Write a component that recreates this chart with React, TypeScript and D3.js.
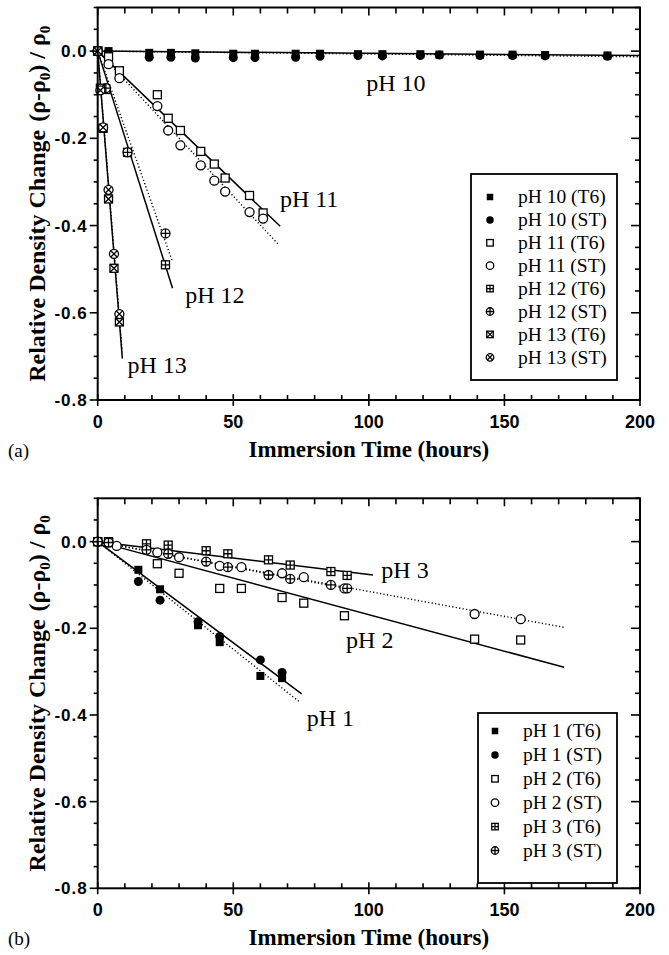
import React from 'react';
import * as d3 from 'd3';

// ---------- shared axis values ----------
const xTickValues = [0, 50, 100, 150, 200];
const yTickValues = [0, -0.2, -0.4, -0.6, -0.8];

// ---------- panel (a): alkaline solutions ----------
const hoursPH10 = [4, 19, 27, 36, 50, 58, 73, 82, 96, 105, 119, 126, 141, 153, 165, 188];
const rhoPH10T6 = [0, -0.004, -0.004, -0.005, -0.006, -0.006, -0.006, -0.006, -0.007, -0.007, -0.007, -0.008, -0.008, -0.008, -0.009, -0.01];
const rhoPH10ST = [-0.002, -0.014, -0.014, -0.016, -0.015, -0.015, -0.014, -0.012, -0.01, -0.011, -0.01, -0.009, -0.01, -0.01, -0.011, -0.012];

const hoursPH11 = [0, 4, 8, 22, 26, 30.5, 38, 43, 47, 56, 61];
const rhoPH11T6 = [0, -0.013, -0.045, -0.1, -0.154, -0.182, -0.23, -0.259, -0.291, -0.331, -0.371];
const rhoPH11ST = [0, -0.03, -0.062, -0.126, -0.182, -0.216, -0.262, -0.297, -0.322, -0.369, -0.384];

const hoursPH12 = [0, 3, 11, 25];
const rhoPH12T6 = [0, -0.088, -0.232, -0.49];
const rhoPH12ST = [0, -0.085, -0.232, -0.418];

const hoursPH13 = [0, 1, 2, 4, 6, 8];
const rhoPH13T6 = [0, -0.085, -0.177, -0.339, -0.498, -0.621];
const rhoPH13ST = [0, -0.09, -0.175, -0.318, -0.465, -0.603];

// linear fits (slope per hour, last hour drawn)
const fitSlopesA = [-0.00005, -0.000065, -0.00597, -0.00665, -0.0197, -0.0175, -0.0775, -0.0765];
const fitEndHoursA = [200, 200, 67.3, 67, 27.6, 27.4, 9.1, 9.0];
const legendLabelsA = ['pH 10 (T6)', 'pH 10 (ST)', 'pH 11 (T6)', 'pH 11 (ST)', 'pH 12 (T6)', 'pH 12 (ST)', 'pH 13 (T6)', 'pH 13 (ST)'];
const curveLabelsA = ['pH 10', 'pH 11', 'pH 12', 'pH 13'];
const curveLabelAnchorsA = [[99, -0.091], [67.2, -0.357], [32.3, -0.577], [11, -0.737]];

// ---------- panel (b): acidic solutions ----------
const hoursPH1 = [0, 15, 23, 37, 45, 60, 68];
const rhoPH1T6 = [0, -0.065, -0.11, -0.193, -0.232, -0.31, -0.315];
const rhoPH1ST = [0, -0.092, -0.135, -0.185, -0.219, -0.273, -0.302];

const hoursPH2T6 = [0, 4, 22, 30, 45, 53, 68, 76, 91, 139, 156];
const rhoPH2T6 = [0, -0.002, -0.051, -0.073, -0.108, -0.108, -0.129, -0.142, -0.171, -0.225, -0.227];
const hoursPH2ST = [0, 7, 22, 30, 45, 53, 68, 76, 91, 139, 156];
const rhoPH2ST = [0, -0.01, -0.025, -0.036, -0.056, -0.059, -0.073, -0.082, -0.108, -0.167, -0.179];

const hoursPH3 = [0, 4, 18, 26, 40, 48, 63, 71, 86, 92];
const rhoPH3T6 = [0, 0, -0.005, -0.008, -0.021, -0.028, -0.042, -0.054, -0.069, -0.078];
const rhoPH3ST = [0, -0.002, -0.019, -0.028, -0.046, -0.059, -0.077, -0.086, -0.1, -0.108];

const fitSlopesB = [-0.00467, -0.00497, -0.001685, -0.00115, -0.00076, -0.00118];
const fitEndHoursB = [75.2, 74.7, 172, 172, 101.5, 92];
const legendLabelsB = ['pH 1 (T6)', 'pH 1 (ST)', 'pH 2 (T6)', 'pH 2 (ST)', 'pH 3 (T6)', 'pH 3 (ST)'];
const curveLabelsB = ['pH 1', 'pH 2', 'pH 3'];
const curveLabelAnchorsB = [[77.1, -0.425], [91.6, -0.246], [104.6, -0.0845]];

const seriesA = [
  { hours: hoursPH10, values: rhoPH10T6, marker: 'fsq' },
  { hours: hoursPH10, values: rhoPH10ST, marker: 'fci' },
  { hours: hoursPH11, values: rhoPH11T6, marker: 'osq' },
  { hours: hoursPH11, values: rhoPH11ST, marker: 'oci' },
  { hours: hoursPH12, values: rhoPH12T6, marker: 'sqplus' },
  { hours: hoursPH12, values: rhoPH12ST, marker: 'ciplus' },
  { hours: hoursPH13, values: rhoPH13T6, marker: 'sqx' },
  { hours: hoursPH13, values: rhoPH13ST, marker: 'cix' },
];

const seriesB = [
  { hours: hoursPH1, values: rhoPH1T6, marker: 'fsq' },
  { hours: hoursPH1, values: rhoPH1ST, marker: 'fci' },
  { hours: hoursPH2T6, values: rhoPH2T6, marker: 'osq' },
  { hours: hoursPH2ST, values: rhoPH2ST, marker: 'oci' },
  { hours: hoursPH3, values: rhoPH3T6, marker: 'sqplus' },
  { hours: hoursPH3, values: rhoPH3ST, marker: 'ciplus' },
];

const SERIF = '"Liberation Serif", "Times New Roman", serif';
const SANS = '"Liberation Sans", Arial, sans-serif';

const Marker = ({ kind, cx, cy, size }) => {
  const h = size / 2;
  const r = size / 2 + 0.5;
  const sw = 1.3;
  const d = r * 0.707;
  switch (kind) {
    case 'fsq':
      return <rect x={cx - h} y={cy - h} width={size} height={size} fill="#000" />;
    case 'fci':
      return <circle cx={cx} cy={cy} r={r} fill="#000" />;
    case 'osq':
      return <rect x={cx - h} y={cy - h} width={size} height={size} fill="#fff" stroke="#000" strokeWidth={sw} />;
    case 'oci':
      return <circle cx={cx} cy={cy} r={r} fill="#fff" stroke="#000" strokeWidth={sw} />;
    case 'sqplus':
      return (
        <g stroke="#000" strokeWidth={sw}>
          <rect x={cx - h} y={cy - h} width={size} height={size} fill="#fff" />
          <path d={`M${cx - h},${cy}H${cx + h}M${cx},${cy - h}V${cy + h}`} />
        </g>
      );
    case 'ciplus':
      return (
        <g stroke="#000" strokeWidth={sw}>
          <circle cx={cx} cy={cy} r={r} fill="#fff" />
          <path d={`M${cx - r},${cy}H${cx + r}M${cx},${cy - r}V${cy + r}`} />
        </g>
      );
    case 'sqx':
      return (
        <g stroke="#000" strokeWidth={sw}>
          <rect x={cx - h} y={cy - h} width={size} height={size} fill="#fff" />
          <path d={`M${cx - h},${cy - h}L${cx + h},${cy + h}M${cx - h},${cy + h}L${cx + h},${cy - h}`} />
        </g>
      );
    default:
      return (
        <g stroke="#000" strokeWidth={sw}>
          <circle cx={cx} cy={cy} r={r} fill="#fff" />
          <path d={`M${cx - d},${cy - d}L${cx + d},${cy + d}M${cx - d},${cy + d}L${cx + d},${cy - d}`} />
        </g>
      );
  }
};

const Panel = ({ top, bottom, letter, series, slopes, ends, legendLabels, legendBox, curveLabels, curveAnchors }) => {
  const left = 97.7;
  const right = 640;
  const x = d3.scaleLinear().domain([0, 200]).range([left, right]);
  const y = d3.scaleLinear().domain([-0.8, 0.1]).range([bottom, top]);
  const line = d3.line().x(d => x(d[0])).y(d => y(d[1]));

  const xMinor = d3.range(0, 201, 10);
  const yMinor = d3.range(0, 19).map(i => 0.1 - i * 0.05);
  const isMajorY = v => Math.abs(v * 5 - Math.round(v * 5)) < 1e-6;

  return (
    <g>
      {/* fit lines: T6 solid, ST dotted */}
      {slopes.map((s, i) => (
        <path
          key={'fit' + i}
          d={line([[0, 0], [ends[i], s * ends[i]]])}
          fill="none"
          stroke="#000"
          strokeWidth={i % 2 === 0 ? 1.5 : 1.4}
          strokeDasharray={i % 2 === 0 ? null : '1.2 2.3'}
        />
      ))}

      {/* data points */}
      {series.map((s, i) =>
        s.hours.map((t, j) => (
          <Marker key={`m${i}-${j}`} kind={s.marker} cx={x(t)} cy={y(s.values[j])} size={8} />
        ))
      )}

      {/* frame */}
      <rect x={left} y={top} width={right - left} height={bottom - top} fill="none" stroke="#000" strokeWidth={2} />

      {/* x ticks */}
      {xMinor.map(t => {
        const major = t % 50 === 0;
        const px = x(t);
        return (
          <g key={'xt' + t} stroke="#000" strokeWidth={1.6}>
            <line x1={px} x2={px} y1={major ? bottom + 6 : bottom} y2={bottom - (major ? 6 : 5)} />
            <line x1={px} x2={px} y1={top} y2={top + (major ? 8 : 6)} />
          </g>
        );
      })}
      {/* y ticks */}
      {yMinor.map((v, i) => {
        const major = isMajorY(v);
        const py = y(v);
        return (
          <g key={'yt' + i} stroke="#000" strokeWidth={1.6}>
            <line x1={left - (major ? 8 : 4)} x2={left} y1={py} y2={py} />
            <line x1={right - (major ? 9 : 5)} x2={right} y1={py} y2={py} />
          </g>
        );
      })}

      {/* tick labels */}
      {xTickValues.map(t => (
        <text key={'xl' + t} x={x(t)} y={bottom + 28} textAnchor="middle" fontFamily={SANS} fontWeight="bold" fontSize={18}>
          {t}
        </text>
      ))}
      {yTickValues.map(v => (
        <text key={'yl' + v} x={left - 10} y={y(v)} dy="0.36em" textAnchor="end" fontFamily={SANS} fontWeight="bold" fontSize={17} letterSpacing={1}>
          {v.toFixed(1)}
        </text>
      ))}

      {/* axis titles */}
      <text x={(left + right) / 2} y={bottom + 57} textAnchor="middle" fontFamily={SERIF} fontWeight="bold" fontSize={23}>
        Immersion Time (hours)
      </text>
      <text x={8} y={bottom + 57} fontFamily={SERIF} fontSize={19}>{letter}</text>
      <text
        transform={`translate(45,${(top + bottom) / 2}) rotate(-90)`}
        textAnchor="middle"
        fontFamily={SERIF}
        fontWeight="bold"
        fontSize={24}
      >
        Relative Density Change<tspan dx={8}>(ρ-ρ</tspan>
        <tspan dy={5} fontSize={15}>0</tspan>
        <tspan dy={-5}>) / ρ</tspan>
        <tspan dy={5} fontSize={15}>0</tspan>
      </text>

      {/* curve labels */}
      {curveLabels.map((lab, i) => (
        <text key={'cl' + i} x={x(curveAnchors[i][0])} y={y(curveAnchors[i][1])} fontFamily={SERIF} fontSize={24}>
          {lab}
        </text>
      ))}

      {/* legend */}
      <rect x={legendBox.x0} y={legendBox.y0} width={legendBox.x1 - legendBox.x0} height={legendBox.y1 - legendBox.y0} fill="#fff" stroke="#000" strokeWidth={1.8} />
      {legendLabels.map((lab, i) => {
        const cy = legendBox.firstRow + i * legendBox.step;
        return (
          <g key={'lg' + i}>
            <Marker kind={series[i].marker} cx={legendBox.markerX} cy={cy} size={6.5} />
            <text x={legendBox.textX} y={cy} dy="0.33em" fontFamily={SERIF} fontSize={19.5}>{lab}</text>
          </g>
        );
      })}
    </g>
  );
};

export default function App() {
  return (
    <svg width={669} height={955} style={{ position: 'absolute', left: 0, top: 0, background: '#fff' }}>
      <rect width={669} height={955} fill="#fff" />
      <Panel
        top={7.5}
        bottom={400}
        letter="(a)"
        series={seriesA}
        slopes={fitSlopesA}
        ends={fitEndHoursA}
        legendLabels={legendLabelsA}
        legendBox={{ x0: 471, x1: 617, y0: 174, y1: 380, firstRow: 197, step: 22.9, markerX: 490, textX: 518 }}
        curveLabels={curveLabelsA}
        curveAnchors={curveLabelAnchorsA}
      />
      <Panel
        top={498.3}
        bottom={888.3}
        letter="(b)"
        series={seriesB}
        slopes={fitSlopesB}
        ends={fitEndHoursB}
        legendLabels={legendLabelsB}
        legendBox={{ x0: 478, x1: 617, y0: 713, y1: 883, firstRow: 731, step: 23.9, markerX: 495, textX: 523 }}
        curveLabels={curveLabelsB}
        curveAnchors={curveLabelAnchorsB}
      />
    </svg>
  );
}
